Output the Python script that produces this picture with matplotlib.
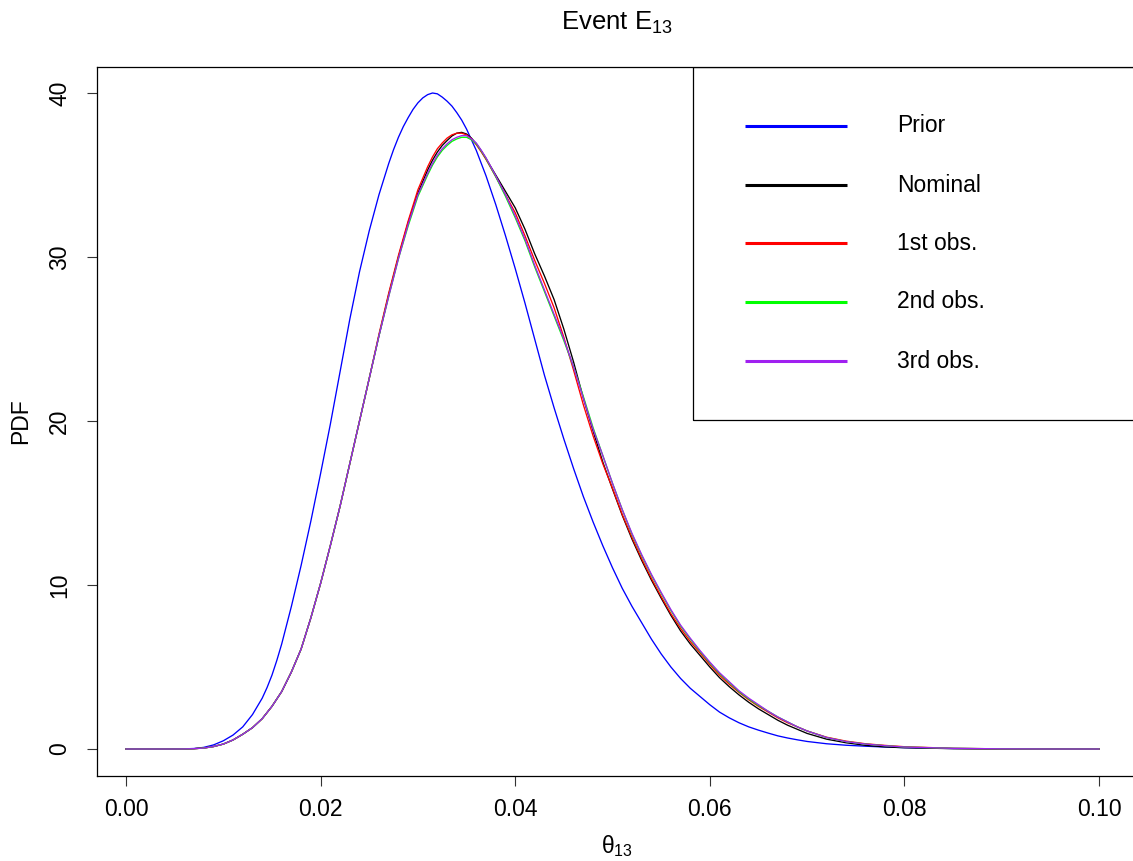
import matplotlib
matplotlib.use("Agg")
import matplotlib.pyplot as plt
from matplotlib.patches import Rectangle

plt.rcParams['font.family'] = ['Liberation Sans', 'DejaVu Sans']
plt.rcParams['mathtext.fontset'] = 'custom'
plt.rcParams['mathtext.rm'] = 'Liberation Sans'
plt.rcParams['mathtext.it'] = 'Liberation Sans'
plt.rcParams['mathtext.bf'] = 'Liberation Sans'

# ---------------- data ----------------
prior_x = [0.000, 0.004, 0.006, 0.007, 0.008, 0.009, 0.010, 0.011, 0.012, 0.013,
           0.014, 0.0145, 0.015, 0.0155, 0.016, 0.017, 0.018, 0.019, 0.020, 0.021,
           0.022, 0.023, 0.024, 0.025, 0.026, 0.027, 0.0275, 0.028, 0.0285, 0.029,
           0.0295, 0.030, 0.0305, 0.031, 0.0315, 0.032, 0.0325, 0.033, 0.0335, 0.034,
           0.0345, 0.035, 0.036, 0.037, 0.038, 0.039, 0.040, 0.041, 0.042,
           0.043, 0.044, 0.045, 0.046, 0.047, 0.048, 0.049, 0.050, 0.051, 0.052,
           0.053, 0.054, 0.055, 0.056, 0.057, 0.058, 0.059, 0.060, 0.061, 0.062,
           0.063, 0.064, 0.065, 0.066, 0.067, 0.068, 0.069, 0.070, 0.072, 0.074,
           0.076, 0.078, 0.080, 0.085, 0.090, 0.100]
prior_y = [0.0, 0.0, 0.01, 0.03, 0.1, 0.25, 0.5, 0.85, 1.35, 2.1,
           3.1, 3.75, 4.5, 5.4, 6.4, 8.7, 11.2, 13.9, 16.8, 19.8,
           23.0, 26.2, 29.1, 31.6, 33.8, 35.7, 36.55, 37.3, 37.95, 38.5,
           39.0, 39.4, 39.7, 39.9, 40.0, 39.95, 39.75, 39.5, 39.2, 38.8,
           38.35, 37.8, 36.5, 34.95, 33.2, 31.3, 29.3, 27.2, 25.0,
           22.8, 20.8, 18.9, 17.1, 15.4, 13.85, 12.4, 11.05, 9.8, 8.7,
           7.7, 6.7, 5.8, 5.0, 4.3, 3.7, 3.2, 2.7, 2.25, 1.9,
           1.6, 1.35, 1.15, 0.97, 0.8, 0.67, 0.56, 0.46, 0.32, 0.23,
           0.17, 0.12, 0.08, 0.03, 0.01, 0.0]

post_x = [0.000, 0.002, 0.004, 0.005, 0.006, 0.007, 0.008, 0.009, 0.010, 0.011,
          0.012, 0.013, 0.014, 0.015, 0.016, 0.017, 0.018, 0.019, 0.020, 0.021,
          0.022, 0.023, 0.024, 0.025, 0.026, 0.027, 0.028, 0.029, 0.030, 0.031,
          0.0315, 0.032, 0.0325, 0.033, 0.0335, 0.034, 0.0345, 0.035, 0.0355, 0.036,
          0.0365, 0.037, 0.038, 0.039, 0.040, 0.041,
          0.042, 0.043, 0.044, 0.045, 0.046, 0.047, 0.048, 0.049, 0.050, 0.051,
          0.052, 0.053, 0.054, 0.055, 0.056, 0.057, 0.058, 0.059, 0.060, 0.061,
          0.062, 0.063, 0.064, 0.065, 0.066, 0.067, 0.068, 0.069, 0.070, 0.072,
          0.074, 0.076, 0.078, 0.080, 0.085, 0.090, 0.095, 0.100]

nominal_y = [0.0, 0.0, 0.0, 0.0, 0.005, 0.02, 0.06, 0.15, 0.3, 0.55,
             0.9, 1.3, 1.85, 2.6, 3.5, 4.7, 6.1, 8.0, 10.1, 12.4,
             14.8, 17.4, 20.0, 22.6, 25.2, 27.7, 30.0, 32.1, 33.9, 35.3,
             35.9, 36.4, 36.8, 37.1, 37.38, 37.55, 37.6, 37.5, 37.25, 36.9,
             36.48, 36.0, 35.0, 34.0, 33.0, 31.7,
             30.2, 28.85, 27.4, 25.6, 23.6, 21.4, 19.4, 17.5, 15.85, 14.25,
             12.8, 11.5, 10.3, 9.2, 8.15, 7.2, 6.4, 5.7, 5.0, 4.35,
             3.8, 3.3, 2.85, 2.45, 2.1, 1.75, 1.45, 1.2, 0.95, 0.6,
             0.38, 0.22, 0.13, 0.08, 0.02, 0.0, 0.0, 0.0]

obs1_y = [0.0, 0.0, 0.0, 0.0, 0.005, 0.02, 0.06, 0.15, 0.3, 0.55,
          0.9, 1.3, 1.85, 2.6, 3.5, 4.7, 6.1, 8.0, 10.1, 12.4,
          14.8, 17.4, 20.0, 22.6, 25.3, 27.8, 30.1, 32.2, 34.1, 35.5,
          36.1, 36.6, 36.95, 37.25, 37.45, 37.55, 37.55, 37.45, 37.2, 36.85,
          36.42, 35.95, 34.9, 33.8, 32.7, 31.3,
          29.8, 28.4, 26.9, 25.1, 23.1, 21.0, 19.1, 17.4, 15.9, 14.3,
          12.9, 11.6, 10.4, 9.3, 8.25, 7.35, 6.55, 5.85, 5.15, 4.5,
          3.95, 3.45, 3.0, 2.6, 2.25, 1.9, 1.6, 1.35, 1.1, 0.72,
          0.48, 0.32, 0.22, 0.14, 0.04, 0.01, 0.0, 0.0]

obs2_y = [0.0, 0.0, 0.0, 0.0, 0.005, 0.02, 0.06, 0.15, 0.3, 0.55,
          0.9, 1.3, 1.85, 2.6, 3.5, 4.7, 6.1, 8.0, 10.1, 12.4,
          14.8, 17.4, 20.0, 22.6, 25.2, 27.6, 29.9, 31.9, 33.7, 35.0,
          35.6, 36.1, 36.5, 36.8, 37.05, 37.2, 37.3, 37.3, 37.15, 36.9,
          36.48, 36.0, 34.9, 33.7, 32.4, 31.0,
          29.4, 27.9, 26.4, 24.9, 23.3, 21.5, 19.6, 17.9, 16.2, 14.6,
          13.1, 11.8, 10.6, 9.5, 8.45, 7.5, 6.7, 5.95, 5.25, 4.6,
          4.05, 3.5, 3.05, 2.65, 2.3, 1.95, 1.65, 1.35, 1.1, 0.7,
          0.45, 0.3, 0.2, 0.12, 0.04, 0.01, 0.0, 0.0]

obs3_y = [0.0, 0.0, 0.0, 0.0, 0.005, 0.02, 0.06, 0.15, 0.3, 0.55,
          0.9, 1.3, 1.85, 2.6, 3.5, 4.7, 6.1, 8.0, 10.1, 12.4,
          14.8, 17.4, 20.0, 22.6, 25.2, 27.6, 29.9, 32.0, 33.8, 35.1,
          35.7, 36.2, 36.6, 36.9, 37.15, 37.3, 37.4, 37.4, 37.2, 36.95,
          36.52, 36.05, 34.95, 33.8, 32.5, 31.1,
          29.5, 28.0, 26.5, 25.0, 23.3, 21.4, 19.5, 17.9, 16.2, 14.6,
          13.15, 11.85, 10.65, 9.55, 8.5, 7.55, 6.75, 6.0, 5.3, 4.65,
          4.1, 3.55, 3.1, 2.7, 2.3, 1.95, 1.65, 1.35, 1.1, 0.7,
          0.45, 0.3, 0.2, 0.12, 0.04, 0.01, 0.0, 0.0]

series_labels = ["Prior", "Nominal", "1st obs.", "2nd obs.", "3rd obs."]
series_colors = ["#0000FF", "#000000", "#FF0000", "#00FF00", "#A020F0"]

x_ticks = [0.00, 0.02, 0.04, 0.06, 0.08, 0.10]
x_ticklabels = ["0.00", "0.02", "0.04", "0.06", "0.08", "0.10"]
y_ticks = [0, 10, 20, 30, 40]
y_ticklabels = ["0", "10", "20", "30", "40"]

# ---------------- figure ----------------
W, H = 1133, 861
fig = plt.figure(figsize=(W / 100, H / 100), dpi=100)
L, R, T, B = 97, 1137, 67, 776
ax = fig.add_axes([L / W, 1 - B / H, (R - L) / W, (B - T) / H])

xs = [prior_x, post_x, post_x, post_x, post_x]
ys = [prior_y, nominal_y, obs1_y, obs2_y, obs3_y]
for xv, yv, c in zip(xs, ys, series_colors):
    ax.plot(xv, yv, color=c, lw=0.95, solid_joinstyle='round')

# pixel -> data scale
ax.set_xlim((L - 126) / 9730.0, (R - 126) / 9730.0)
ax.set_ylim((749 - B) / 16.4, (749 - T) / 16.4)

ax.set_xticks(x_ticks)
ax.set_xticklabels(x_ticklabels)
ax.set_yticks(y_ticks)
ax.set_yticklabels(y_ticklabels, rotation=90, va='center')
ax.tick_params(axis='both', direction='out', length=7.5, width=0.8,
               labelsize=16.5, color='#333333')
ax.tick_params(axis='x', pad=8)
ax.tick_params(axis='y', pad=11)
for s in ax.spines.values():
    s.set_linewidth(0.9)
    s.set_color('black')

ax.set_xlabel(r'$\theta_{13}$', fontsize=16.5, labelpad=9)
ax.set_ylabel('PDF', fontsize=16.5, labelpad=12)
fig.text((L + R) / 2 / W, 1 - 30 / H, r'Event E$_{13}$', ha='center',
         va='baseline', fontsize=18.5)

# legend (drawn manually in axes coordinates)
def axx(px):
    return (px - L) / (R - L)

def axy(py):
    return (B - py) / (B - T)

ax.add_patch(Rectangle((axx(693), axy(420)), 1.2, axy(67) - axy(420),
                       transform=ax.transAxes, fill=False, lw=0.9,
                       edgecolor='black', clip_on=True))
row_y = [126, 185, 243, 302, 361]
for lab, c, py in zip(series_labels, series_colors, row_y):
    ax.plot([axx(745), axx(847)], [axy(py), axy(py)], transform=ax.transAxes,
            color=c, lw=2.2, solid_capstyle='butt')
    ax.text(axx(897), axy(py), lab, transform=ax.transAxes, fontsize=16.5,
            va='center', ha='left')

fig.savefig("out.png", dpi=100)
